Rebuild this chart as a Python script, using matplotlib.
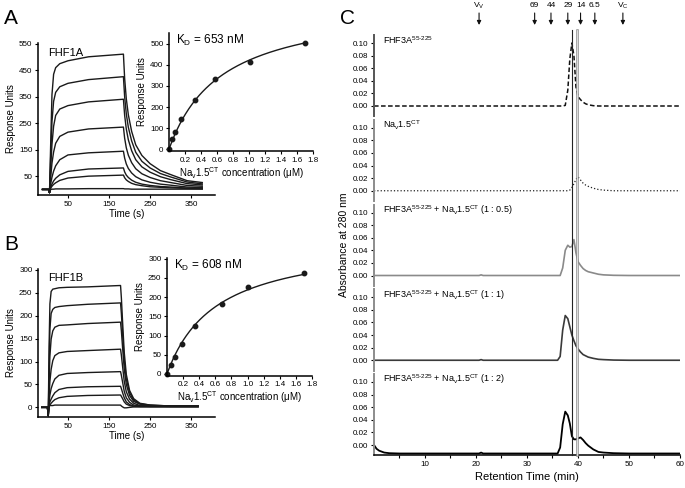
import numpy as np
import matplotlib
matplotlib.use('Agg')
import matplotlib.pyplot as plt
from matplotlib.lines import Line2D
from matplotlib.transforms import blended_transform_factory

plt.rcParams['font.family'] = ['Liberation Sans', 'DejaVu Sans']
plt.rcParams['mathtext.fontset'] = 'custom'
plt.rcParams['mathtext.rm'] = 'Liberation Sans'
plt.rcParams['mathtext.it'] = 'Liberation Sans:italic'
plt.rcParams['mathtext.bf'] = 'Liberation Sans:bold'
plt.rcParams['mathtext.sf'] = 'Liberation Sans'

# ---- panel A: SPR sensorgrams FHF1A (RU) ----
spr_a_time = [-12, 3, 5, 8, 11, 15, 20, 30, 50, 100, 185,
              188, 192, 197, 205, 215, 230, 250, 275, 300, 340, 377]
spr_a_curves = [
    [0, 0, -12, 178, 357, 434, 459, 474, 485, 500, 510, 418, 342, 281, 219, 168, 128, 97, 71, 56, 33, 26],
    [0, 0, -12, 128, 255, 332, 366, 387, 400, 414, 425, 349, 285, 234, 183, 140, 106, 81, 60, 47, 28, 21],
    [0, 0, -12, 85, 170, 238, 279, 303, 316, 330, 340, 279, 228, 187, 146, 112, 85, 65, 48, 37, 22, 17],
    [0, 0, -12, 47, 99, 141, 174, 200, 216, 228, 235, 193, 157, 129, 101, 78, 59, 45, 33, 26, 15, 12],
    [0, 0, -12, 22, 46, 69, 89, 112, 130, 138, 144, 118, 96, 79, 62, 48, 36, 27, 20, 16, 9, 7],
    [0, 0, -12, 10, 20, 32, 42, 55, 68, 77, 81, 66, 54, 45, 35, 27, 20, 15, 11, 9, 5, 4],
    [0, 0, -12, 5, 12, 19, 25, 34, 43, 50, 54, 44, 36, 30, 23, 18, 14, 10, 8, 6, 4, 3],
    [0, 0, -12, 0, 1, 1, 2, 2, 2, 3, 3, 2, 2, 2, 1, 1, 1, 1, 1, 1, 1, 1],
]
conc_a = [0, 0.04, 0.075, 0.155, 0.33, 0.57, 1.01, 1.70]
ru_a = [0, 47, 80, 141, 233, 333, 415, 501]
kd_a = 0.653

# ---- panel B: SPR sensorgrams FHF1B (RU) ----
spr_b_time = [-14, 0, 2, 4, 6, 9, 13, 18, 28, 48, 98, 178,
              180, 183, 187, 192, 200, 210, 225, 250, 300, 367]
spr_b_curves = [
    [0, 0, -18, 133, 226, 253, 258, 259, 261, 262, 263, 266, 239, 186, 120, 72, 37, 19, 9, 5, 3, 3],
    [0, 0, -18, 91, 171, 205, 214, 218, 220, 222, 225, 228, 205, 160, 103, 62, 32, 16, 8, 5, 3, 3],
    [0, 0, -18, 56, 112, 149, 167, 175, 179, 180, 183, 186, 167, 130, 84, 50, 26, 13, 7, 4, 3, 3],
    [0, 0, -18, 25, 57, 83, 102, 113, 119, 122, 124, 127, 114, 89, 57, 34, 18, 9, 4, 3, 2, 2],
    [0, 0, -18, 12, 27, 41, 52, 62, 70, 74, 76, 78, 70, 55, 35, 21, 11, 5, 3, 2, 2, 2],
    [0, 0, -18, 5, 12, 18, 25, 32, 39, 43, 45, 46, 41, 32, 21, 12, 6, 3, 2, 2, 2, 2],
    [0, 0, -18, 2, 5, 9, 13, 17, 21, 24, 26, 27, 24, 19, 12, 7, 4, 2, 2, 2, 2, 2],
    [0, 0, -18, 3, 4, 4, 4, 5, 5, 5, 5, 5, 3, 1, -1, -1, 0, 1, 1, 1, 1, 1],
]
conc_b = [0, 0.05, 0.10, 0.19, 0.35, 0.68, 1.01, 1.70]
ru_b = [0, 24, 44, 77, 124, 182, 226, 263]
kd_b = 0.608

# ---- panel C: gel filtration traces (A280) ----
lc_time = [0, 0.5, 1, 2, 3, 5, 10, 20.6, 21, 21.4, 30, 35, 36, 36.5, 37, 37.5, 38,
           38.4, 38.8, 39.2, 39.6, 40, 40.5, 41, 41.5, 42, 43, 44, 45, 47, 50, 55, 60]
fhf3a = [0, 0, 0, 0, 0, 0, 0, 0, 0, 0, 0, 0, 0, 0, 0, 0.001, 0.025,
         0.075, 0.1, 0.08, 0.03, 0.015, 0.01, 0.006, 0.0035, 0.002, 0.0005, 0, 0, 0, 0, 0, 0]
nav = [0, 0, 0, 0, 0, 0, 0, 0, 0, 0, 0, 0, 0, 0, 0, 0, 0,
       0.001, 0.005, 0.011, 0.018, 0.022, 0.017, 0.012, 0.009, 0.007, 0.004, 0.002, 0.001, 0, 0, 0, 0]
mix_05 = [0, 0, 0, 0, 0, 0, 0, 0, 0.001, 0, 0, 0, 0, 0, 0.012, 0.04, 0.048,
          0.045, 0.046, 0.057, 0.036, 0.022, 0.016, 0.011, 0.008, 0.006, 0.004, 0.002, 0.001, 0.0003, 0, 0, 0]
mix_1 = [0, 0, 0, 0, 0, 0, 0, 0, 0.001, 0, 0, 0, 0, 0.006, 0.048, 0.071, 0.066,
         0.053, 0.04, 0.031, 0.023, 0.018, 0.013, 0.009, 0.007, 0.005, 0.003, 0.0015, 0.001, 0.0003, 0, 0, 0]
mix_2 = [0, -0.006, -0.009, -0.012, -0.013, -0.0135, -0.0135, -0.0135, -0.012, -0.0135, -0.0135, -0.0135,
         -0.0135, -0.004, 0.033, 0.053, 0.047, 0.034, 0.014, 0.009, 0.009, 0.0105, 0.012, 0.008, 0.003,
         -0.001, -0.007, -0.011, -0.012, -0.013, -0.0135, -0.0135, -0.0135]
lc_labels = [r'FHF3A$^{55\text{-}225}$',
             r'Na$_\mathrm{v}$1.5$^\mathrm{CT}$',
             r'FHF3A$^{55\text{-}225}$ + Na$_\mathrm{v}$1.5$^\mathrm{CT}$ (1 : 0.5)',
             r'FHF3A$^{55\text{-}225}$ + Na$_\mathrm{v}$1.5$^\mathrm{CT}$ (1 : 1)',
             r'FHF3A$^{55\text{-}225}$ + Na$_\mathrm{v}$1.5$^\mathrm{CT}$ (1 : 2)']
marker_times = [20.6, 31.5, 34.7, 38.0, 40.5, 43.3, 48.8]
marker_labels = [r'V$_\mathrm{V}$', '69', '44', '29', '14', '6.5', r'V$_\mathrm{C}$']

W, H = 685, 488
fig = plt.figure(figsize=(6.85, 4.88), dpi=100)


def px_axes(x0, y0, x1, y1):
    # box in pixels, origin top-left
    return fig.add_axes([x0 / W, 1 - y1 / H, (x1 - x0) / W, (y1 - y0) / H])


def style(ax, fs=5.5):
    for s in ['top', 'right']:
        ax.spines[s].set_visible(False)
    for s in ['left', 'bottom']:
        ax.spines[s].set_linewidth(1.1)
    ax.tick_params(direction='out', length=2.5, width=0.8, labelsize=fs, pad=1.5)
    ax.patch.set_alpha(0)


def sensorgram(box, t, curves, ylim, yticks, name):
    ax = px_axes(*box)
    for c in curves:
        ax.plot(t, c, color='#1a1a1a', lw=1.0)
    ax.set_xlim(-23, 408)
    ax.set_ylim(*ylim)
    ax.set_xticks([50, 150, 250, 350])
    ax.set_yticks(yticks)
    style(ax, 5.8)
    ax.set_xlabel('Time (s)', fontsize=7, labelpad=1)
    ax.set_ylabel('Response Units', fontsize=7, labelpad=2)
    ax.text(0.06, 0.97, name, transform=ax.transAxes, fontsize=8, va='top')
    return ax


def binding(box, conc, ru, kd, ylim, yticks):
    ax = px_axes(*box)
    conc = np.array(conc)
    ru = np.array(ru)
    g = conc / (kd + conc)
    rmax = np.sum(ru * g) / np.sum(g * g)
    cc = np.linspace(0, conc.max(), 200)
    ax.plot(cc, rmax * cc / (kd + cc), color='#1a1a1a', lw=1.0)
    ax.plot(conc, ru, 'o', color='#1a1a1a', ms=3.2, clip_on=False)
    ax.set_xlim(0, 1.8)
    ax.set_ylim(*ylim)
    ax.set_xticks(np.arange(0.2, 1.81, 0.2))
    ax.set_xticklabels(['%.1f' % v for v in np.arange(0.2, 1.81, 0.2)])
    ax.set_yticks(yticks)
    style(ax, 5.8)
    ax.set_xlabel(r'Na$_\mathrm{v}$1.5$^\mathrm{CT}$ concentration (μM)', fontsize=7, labelpad=1)
    ax.set_ylabel('Response Units', fontsize=7, labelpad=2)
    ax.text(0.05, 1.0, r'K$_\mathrm{D}$ = %d nM' % round(kd * 1000), transform=ax.transAxes,
            fontsize=8.5, va='top')
    return ax


sensorgram((38, 43, 215, 195), spr_a_time, spr_a_curves, (-21, 552), range(50, 551, 100), 'FHF1A')
binding((169, 33, 313, 151), conc_a, ru_a, kd_a, (-8, 550), range(0, 501, 100))
sensorgram((38, 269, 215, 417), spr_b_time, spr_b_curves, (-21, 302), range(0, 301, 50), 'FHF1B')
binding((167, 258, 312, 375.5), conc_b, ru_b, kd_b, (-4, 302), range(0, 301, 50))

# ---- panel C ----
traces = [fhf3a, nav, mix_05, mix_1, mix_2]
trace_style = [dict(color='#111111', lw=1.1, dashes=(3, 1.6)),
               dict(color='#222222', lw=0.9, ls=':'),
               dict(color='#8a8a8a', lw=1.2),
               dict(color='#3a3a3a', lw=1.2),
               dict(color='#000000', lw=1.3)]
ylo, yhi = -0.0165, 0.1125
c_axes = []
for k in range(5):
    y10 = 43 + 84.75 * k
    top = y10 - (yhi - 0.10) * 630
    bot = top + (yhi - ylo) * 630
    ax = px_axes(374, top, 680, bot)
    ax.plot(lc_time, traces[k], **trace_style[k])
    ax.set_xlim(0, 60)
    ax.set_ylim(ylo, yhi)
    ax.set_yticks(np.arange(0, 0.101, 0.02))
    ax.set_yticklabels(['%.2f' % v for v in np.arange(0, 0.101, 0.02)])
    style(ax, 5.8)
    ax.spines['left'].set_color('#555555' if k == 0 else '#8c8c8c')
    ax.spines['left'].set_linewidth(1.4)
    ax.text(1.8, 0.104, lc_labels[k], fontsize=6.5, va='center')
    if k < 4:
        ax.spines['bottom'].set_visible(False)
        ax.set_xticks([])
    else:
        ax.set_xticks(range(10, 61, 10))
        ax.set_xticks(range(5, 60, 10), minor=True)
        ax.tick_params(axis='x', which='minor', direction='out', length=2.5, width=0.8)
        ax.set_xlabel('Retention Time (min)', fontsize=8, labelpad=3)
    c_axes.append(ax)

trans = blended_transform_factory(c_axes[0].transData, fig.transFigure)
# marker arrows along the top
for x, lab in zip(marker_times, marker_labels):
    c_axes[0].annotate('', xy=(x, 1 - 25 / H), xycoords=trans, xytext=(x, 1 - 13 / H),
                       textcoords=trans,
                       arrowprops=dict(arrowstyle='-|>', color='#111111', lw=0.8,
                                       mutation_scale=6, shrinkA=0, shrinkB=0))
    c_axes[0].text(x, 1 - 5.5 / H, lab, transform=trans, fontsize=6, ha='center', va='center')

# reference lines through all traces
fig.add_artist(Line2D([38.8, 38.8], [1 - 30 / H, 1 - 455 / H], transform=trans,
                      color='#222222', lw=0.8))
fig.add_artist(Line2D([39.9, 39.9], [1 - 30 / H, 1 - 455 / H], transform=trans,
                      color='#8c8c8c', lw=1.8))
fig.add_artist(Line2D([39.9, 39.9], [1 - 30 / H, 1 - 455 / H], transform=trans,
                      color='white', lw=0.5))

fig.text(344 / W, 1 - 245 / H, 'Absorbance at 280 nm', rotation=90, fontsize=7.5,
         ha='center', va='center')

# panel letters
fig.text(4 / W, 1 - 19 / H, 'A', fontsize=15, va='center')
fig.text(4 / W, 1 - 244 / H, 'B', fontsize=15, va='center')
fig.text(340 / W, 1 - 19 / H, 'C', fontsize=15, va='center')

fig.savefig('out.png', dpi=100)
